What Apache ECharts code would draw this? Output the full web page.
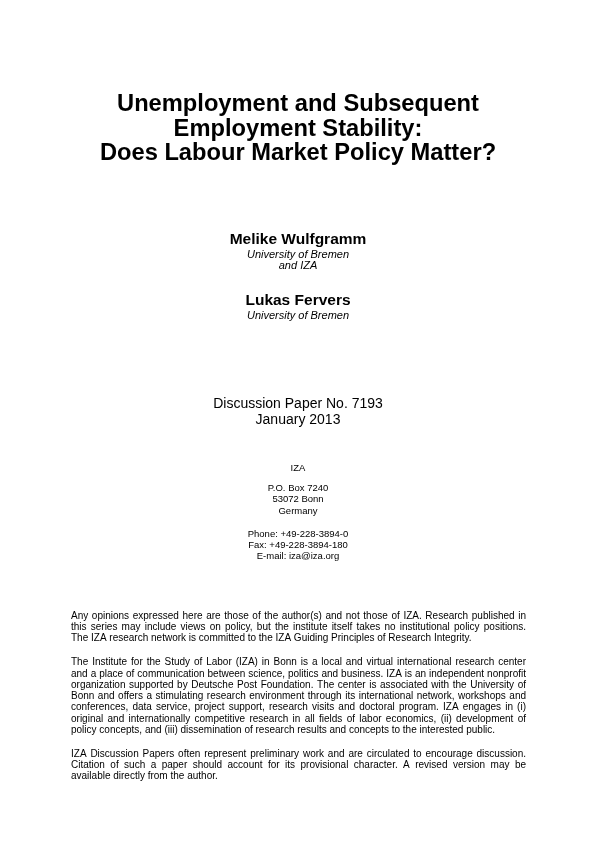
<!DOCTYPE html>
<html>
<head>
<meta charset="utf-8">
<script src="https://cdn.jsdelivr.net/npm/echarts@6/dist/echarts.min.js"></script>
<style>
html,body{margin:0;padding:0;background:#fff;}
#page{width:596px;height:842px;}
</style>
</head>
<body>
<div id="page"></div>
<script>
var titleLines = ["Unemployment and Subsequent", "Employment Stability:", "Does Labour Market Policy Matter?"];
var authorNames = ["Melike Wulfgramm", "Lukas Fervers"];
var authorAffiliations = [["University of Bremen", "and IZA"], ["University of Bremen"]];
var paperInfo = ["Discussion Paper No. 7193", "January 2013"];
var addressLines = ["IZA", "", "P.O. Box 7240", "53072 Bonn", "Germany", "", "Phone: +49-228-3894-0", "Fax: +49-228-3894-180", "E-mail: iza@iza.org"];
var paragraphs = [
  ["Any opinions expressed here are those of the author(s) and not those of IZA. Research published in",
   "this series may include views on policy, but the institute itself takes no institutional policy positions.",
   "The IZA research network is committed to the IZA Guiding Principles of Research Integrity."],
  ["The Institute for the Study of Labor (IZA) in Bonn is a local and virtual international research center",
   "and a place of communication between science, politics and business. IZA is an independent nonprofit",
   "organization supported by Deutsche Post Foundation. The center is associated with the University of",
   "Bonn and offers a stimulating research environment through its international network, workshops and",
   "conferences, data service, project support, research visits and doctoral program. IZA engages in (i)",
   "original and internationally competitive research in all fields of labor economics, (ii) development of",
   "policy concepts, and (iii) dissemination of research results and concepts to the interested public."],
  ["IZA Discussion Papers often represent preliminary work and are circulated to encourage discussion.",
   "Citation of such a paper should account for its provisional character. A revised version may be",
   "available directly from the author."]
];

var FAMILY = '"Liberation Sans", Arial, Helvetica, sans-serif';
var CX = 298;
var elements = [];

function centered(text, y, size, weight, style) {
  elements.push({
    type: 'text', x: CX, y: y,
    style: { text: text, fill: '#000', align: 'center', verticalAlign: 'middle',
      fontFamily: FAMILY, fontSize: size, fontWeight: weight || 'normal', fontStyle: style || 'normal' }
  });
}

// Title
titleLines.forEach(function (t, i) { centered(t, 104.5 + i * 24.6, 23.7, 'bold'); });

// Authors
var authorY = [239.5, 300.5];
authorNames.forEach(function (n, i) {
  centered(n, authorY[i], 15.5, 'bold');
  authorAffiliations[i].forEach(function (a, j) { centered(a, authorY[i] + 15 + j * 11, 11, 'normal', 'italic'); });
});

// Paper info
paperInfo.forEach(function (t, i) { centered(t, 404 + i * 16, 14); });

// Address
addressLines.forEach(function (t, i) { if (t) centered(t, 468.5 + i * 11.1 + (i >= 2 ? -2 : 0) + (i >= 6 ? 1 : 0), 9.5); });

// Justified paragraphs
var PFS = 10;
var LEFT = 71, RIGHT = 526, PITCH = 11.25;
var ctx = document.createElement('canvas').getContext('2d');
ctx.font = PFS + 'px ' + FAMILY;
var y = 616;
paragraphs.forEach(function (lines) {
  lines.forEach(function (line, li) {
    var words = line.split(' ');
    var last = li === lines.length - 1;
    var widths = words.map(function (w) { return ctx.measureText(w).width; });
    var total = widths.reduce(function (a, b) { return a + b; }, 0);
    var gap = last ? ctx.measureText(' ').width : (RIGHT - LEFT - total) / (words.length - 1);
    var x = LEFT;
    words.forEach(function (w, k) {
      elements.push({
        type: 'text', x: x, y: y,
        style: { text: w, fill: '#000', align: 'left', verticalAlign: 'middle', fontFamily: FAMILY, fontSize: PFS }
      });
      x += widths[k] + gap;
    });
    y += PITCH;
  });
  y += PITCH + 1.5;
});

var chart = echarts.init(document.getElementById('page'), null, { renderer: 'canvas', width: 596, height: 842 });
chart.setOption({ backgroundColor: '#fff', animation: false, graphic: { elements: elements } });
</script>
</body>
</html>
